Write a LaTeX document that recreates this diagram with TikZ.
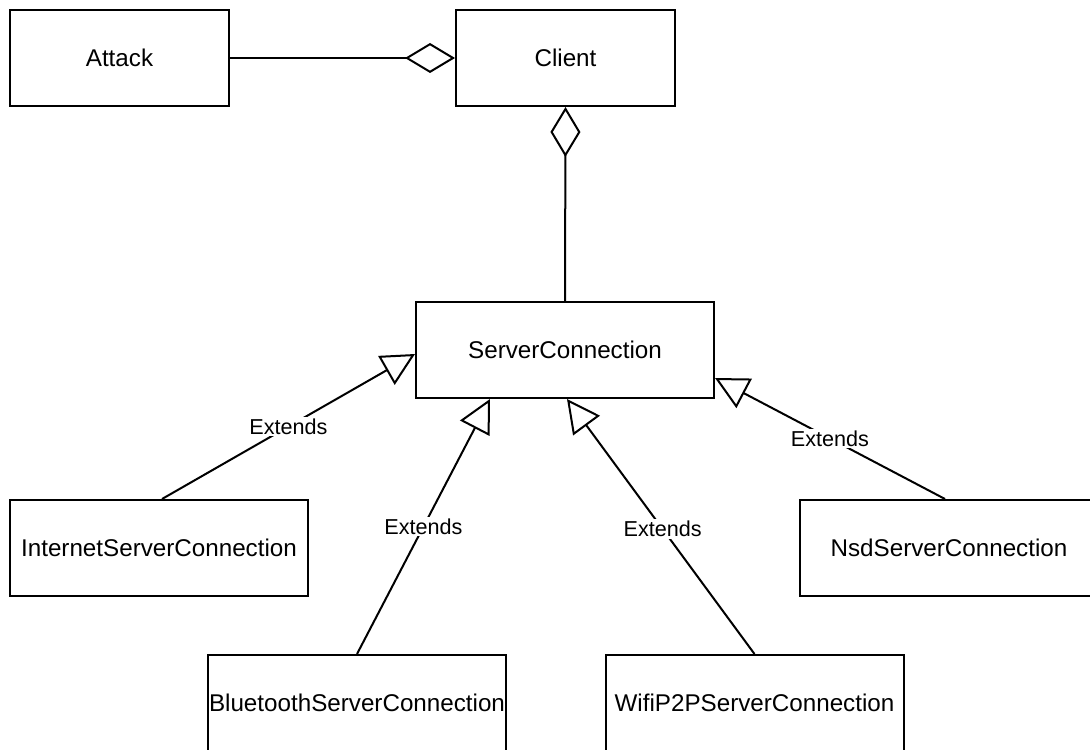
\documentclass[tikz,border=0pt]{standalone}
\usepackage{fontspec}
\setmainfont{Liberation Sans}
\usetikzlibrary{arrows.meta}

\begin{document}
\begin{tikzpicture}[x=0.5pt, y=-0.5pt,
  cls/.style={draw=black, line width=1pt, fill=white, inner sep=0pt,
    minimum width=149pt, minimum height=48pt, font=\fontsize{12.1pt}{14pt}\selectfont},
  smallcls/.style={cls, minimum width=109.5pt},
  assoc/.style={line width=1pt, -{Diamond[open, length=25pt, width=15pt, line width=1pt]}},
  extends/.style={line width=1pt, -{Triangle[open, length=16.5pt, width=16.5pt, line width=1pt]}},
  lbl/.style={fill=white, inner sep=1pt, font=\fontsize{10.8pt}{12pt}\selectfont}]

  \useasboundingbox (0,0) rectangle (1090,749);

  % classes
  \node[smallcls] (attack) at (119.5,58) {Attack};
  \node[smallcls] (client) at (565.5,58) {Client};
  \node[cls] (server)   at (565,350) {ServerConnection};
  \node[cls] (internet) at (159,548) {InternetServerConnection};
  \node[cls] (nsd)      at (949,548) {NsdServerConnection};
  \node[cls] (bluetooth) at (357,703) {BluetoothServerConnection};
  \node[cls] (wifi)     at (754.5,703) {WifiP2PServerConnection};

  % aggregations
  \draw[assoc] (attack.east) -- (client.west);
  \draw[assoc] (server.north) -- (client.south);

  % generalisations
  \draw[extends] ([xshift=1.5pt]internet.north) -- node[lbl] {Extends} ([yshift=-2pt]server.west);
  \draw[extends] (bluetooth.north) -- node[lbl] {Extends} ([xshift=-37.5pt]server.south);
  \draw[extends] (wifi.north) -- node[lbl, pos=0.49] {Extends} ([xshift=1pt]server.south);
  \draw[extends] ([xshift=-2pt]nsd.north) -- node[lbl] {Extends} ([yshift=-14pt]server.east);
\end{tikzpicture}
\end{document}
